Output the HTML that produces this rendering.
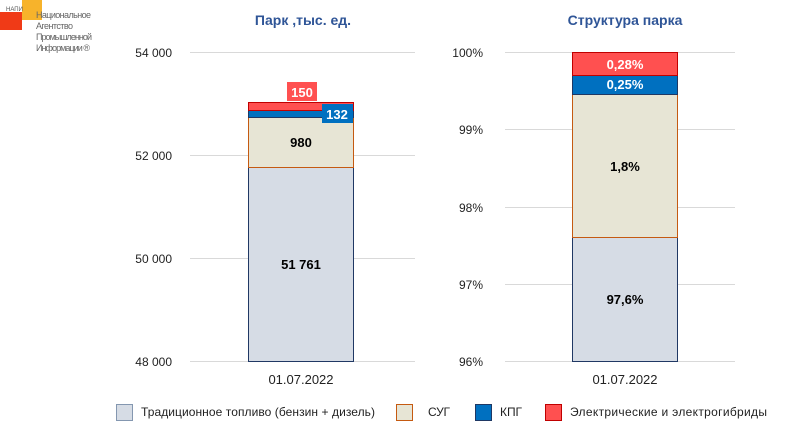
<!DOCTYPE html>
<html><head><meta charset="utf-8"><style>
body{margin:0;width:800px;height:432px;background:#fff;overflow:hidden}
svg text{font-family:"Liberation Sans",sans-serif}
</style></head><body>
<svg width="800" height="432" xmlns="http://www.w3.org/2000/svg">
<rect x="0" y="12" width="22" height="18" fill="#f03a17"/>
<rect x="22" y="0" width="20" height="20" fill="#f7b32b"/>
<text x="6" y="11" font-size="6" fill="#555">НАПИ</text>
<text x="36" y="18" font-size="9" fill="#666" textLength="55">Национальное</text>
<text x="36" y="29" font-size="9" fill="#666" textLength="37">Агентство</text>
<text x="36" y="40" font-size="9" fill="#666" textLength="56">Промышленной</text>
<text x="36" y="51" font-size="9" fill="#666" textLength="54">Информации ®</text>

<text x="303" y="25" font-size="14" font-weight="bold" fill="#2f5597" text-anchor="middle">Парк ,тыс. ед.</text>
<text x="625" y="25" font-size="14" font-weight="bold" fill="#2f5597" text-anchor="middle">Структура парка</text>

<g stroke="#d9d9d9" stroke-width="1">
<line x1="190" y1="52.5" x2="415" y2="52.5"/><line x1="190" y1="155.5" x2="415" y2="155.5"/>
<line x1="190" y1="258.5" x2="415" y2="258.5"/><line x1="190" y1="361.5" x2="415" y2="361.5"/>
<line x1="505" y1="52.5" x2="735" y2="52.5"/><line x1="505" y1="129.5" x2="735" y2="129.5"/>
<line x1="505" y1="207.5" x2="735" y2="207.5"/><line x1="505" y1="284.5" x2="735" y2="284.5"/>
<line x1="505" y1="361.5" x2="735" y2="361.5"/>
</g>
<g font-size="12" fill="#222" text-anchor="end">
<text x="172" y="57">54 000</text><text x="172" y="160">52 000</text>
<text x="172" y="263">50 000</text><text x="172" y="366">48 000</text>
<text x="483" y="57">100%</text><text x="483" y="134">99%</text>
<text x="483" y="212">98%</text><text x="483" y="289">97%</text><text x="483" y="366">96%</text>
</g>

<rect x="248.5" y="167.5" width="105" height="194" fill="#d6dce5" stroke="#203864"/>
<rect x="248.5" y="117.5" width="105" height="50" fill="#e7e5d5" stroke="#c55a11"/>
<rect x="248.5" y="110.5" width="105" height="7" fill="#0070c0" stroke="#1f3864"/>
<rect x="248.5" y="102.5" width="105" height="8" fill="#ff5050" stroke="#c00000"/>
<rect x="287" y="82" width="30" height="19" fill="#ff5050"/>
<text x="302" y="97" font-size="13" font-weight="bold" fill="#fff" text-anchor="middle">150</text>
<rect x="322" y="104" width="31" height="19" fill="#0070c0"/>
<text x="337" y="119" font-size="13" font-weight="bold" fill="#fff" text-anchor="middle">132</text>
<text x="301" y="147" font-size="13" font-weight="bold" text-anchor="middle">980</text>
<text x="301" y="269" font-size="13" font-weight="bold" text-anchor="middle">51 761</text>

<rect x="572.5" y="237.5" width="105" height="124" fill="#d6dce5" stroke="#203864"/>
<rect x="572.5" y="94.5" width="105" height="143" fill="#e7e5d5" stroke="#c55a11"/>
<rect x="572.5" y="75.5" width="105" height="19" fill="#0070c0" stroke="#1f3864"/>
<rect x="572.5" y="52.5" width="105" height="23" fill="#ff5050" stroke="#c00000"/>
<text x="625" y="69" font-size="13" font-weight="bold" fill="#fff" text-anchor="middle">0,28%</text>
<text x="625" y="89" font-size="13" font-weight="bold" fill="#fff" text-anchor="middle">0,25%</text>
<text x="625" y="171" font-size="13" font-weight="bold" text-anchor="middle">1,8%</text>
<text x="625" y="304" font-size="13" font-weight="bold" text-anchor="middle">97,6%</text>

<text x="301" y="384" font-size="13" fill="#222" text-anchor="middle">01.07.2022</text>
<text x="625" y="384" font-size="13" fill="#222" text-anchor="middle">01.07.2022</text>

<rect x="116.5" y="404.5" width="16" height="16" fill="#d6dce5" stroke="#8497b0"/>
<text x="141" y="416" font-size="12" fill="#222" textLength="234">Традиционное топливо (бензин + дизель)</text>
<rect x="396.5" y="404.5" width="16" height="16" fill="#e7e5d5" stroke="#c55a11"/>
<text x="428" y="416" font-size="12" fill="#222" textLength="22">СУГ</text>
<rect x="475.5" y="404.5" width="16" height="16" fill="#0070c0" stroke="#1f3864"/>
<text x="500" y="416" font-size="12" fill="#222" textLength="22">КПГ</text>
<rect x="545.5" y="404.5" width="16" height="16" fill="#ff5050" stroke="#c00000"/>
<text x="570" y="416" font-size="12" fill="#222" textLength="197">Электрические и электрогибриды</text>
</svg>
</body></html>
